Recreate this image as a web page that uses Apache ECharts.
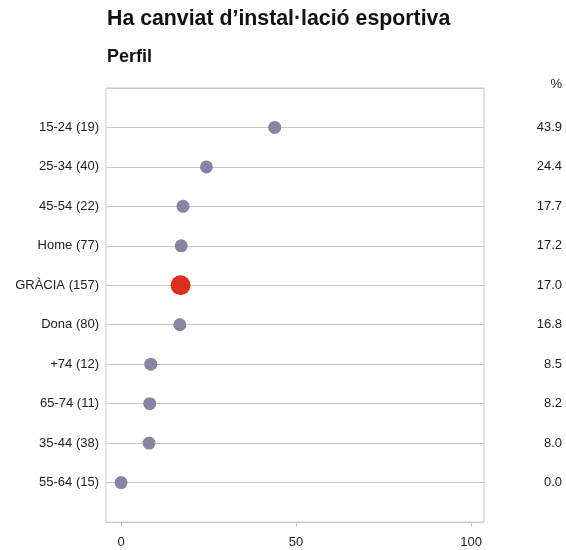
<!DOCTYPE html>
<html>
<head>
<meta charset="utf-8">
<script src="https://cdn.jsdelivr.net/npm/echarts@6/dist/echarts.min.js"></script>
<style>
html,body{margin:0;padding:0;background:#fff;}
#chart{width:566px;height:550px;}
</style>
</head>
<body>
<div id="chart"></div>
<script>
const titleText = 'Ha canviat d\u2019instal\u00b7laci\u00f3 esportiva';
const subtitleText = 'Perfil';
const unitText = '%';
const categories = ['15-24 (19)','25-34 (40)','45-54 (22)','Home (77)','GR\u00c0CIA (157)','Dona (80)','+74 (12)','65-74 (11)','35-44 (38)','55-64 (15)'];
const values = [43.9, 24.4, 17.7, 17.2, 17.0, 16.8, 8.5, 8.2, 8.0, 0.0];
const highlight = 'GR\u00c0CIA (157)';
const xTicks = [0, 50, 100];

const FONT = '"Liberation Sans", Arial, sans-serif';
const normalData = [], highData = [];
categories.forEach((c, i) => {
  const pt = [values[i], i + 1];
  if (c === highlight) highData.push(pt); else normalData.push(pt);
});

const chart = echarts.init(document.getElementById('chart'), null, {renderer: 'canvas'});
chart.setOption({
  animation: false,
  backgroundColor: '#fff',
  title: [
    {text: titleText, left: 107, top: 8.5, padding: 0, textStyle: {fontFamily: FONT, fontSize: 21.3, fontWeight: 'bold', color: '#111'}},
    {text: subtitleText, left: 107, top: 48, padding: 0, textStyle: {fontFamily: FONT, fontSize: 18, fontWeight: 'bold', color: '#111'}},
    {text: unitText, right: 4, top: 78, padding: 0, textStyle: {fontFamily: FONT, fontSize: 13, fontWeight: 'normal', color: '#222'}}
  ],
  grid: {left: 106, right: 82, top: 88, bottom: 28, show: true, borderColor: '#c8c8c8', borderWidth: 1, containLabel: false},
  xAxis: {
    type: 'value', min: -4.3, max: 103.7, position: 'bottom',
    axisLine: {show: false, onZero: false},
    splitLine: {show: false},
    axisTick: {show: true, length: 5, customValues: xTicks, lineStyle: {color: '#c8c8c8'}},
    axisLabel: {customValues: xTicks, margin: 14, fontFamily: FONT, fontSize: 13, color: '#222'}
  },
  yAxis: [
    {
      type: 'value', min: 0, max: 11, interval: 1, inverse: true,
      axisLine: {show: false}, axisTick: {show: false},
      splitLine: {show: true, lineStyle: {color: '#c8c8c8', width: 1}},
      axisLabel: {margin: 7, fontFamily: FONT, fontSize: 13, color: '#222',
        formatter: v => (v >= 1 && v <= categories.length) ? categories[v - 1] : ''}
    },
    {
      type: 'value', position: 'right', min: 0, max: 11, interval: 1, inverse: true,
      axisLine: {show: false}, axisTick: {show: false}, splitLine: {show: false},
      axisLabel: {margin: 78, align: 'right', fontFamily: FONT, fontSize: 13, color: '#222',
        formatter: v => (v >= 1 && v <= values.length) ? values[v - 1].toFixed(1) : ''}
    }
  ],
  series: [
    {type: 'scatter', data: normalData, symbolSize: 13, itemStyle: {color: '#8c82a2', opacity: 1}, z: 3},
    {type: 'scatter', data: highData, symbolSize: 20, itemStyle: {color: '#d7301f', opacity: 1}, z: 4}
  ]
});
</script>
</body>
</html>
